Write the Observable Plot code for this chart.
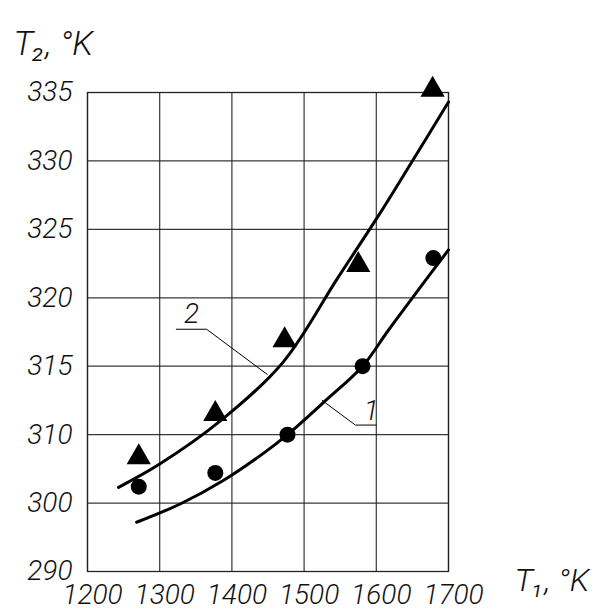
<!DOCTYPE html>
<html><head><meta charset="utf-8">
<script src="https://cdn.jsdelivr.net/npm/d3@7"></script>
<script src="https://cdn.jsdelivr.net/npm/@observablehq/plot@0.6"></script>
<style>body{margin:0;background:#fff}</style>
</head><body><div id="chart"></div>
<script>
// Tick labels
const xTicks = [1200, 1300, 1400, 1500, 1600, 1700];
const yTicks = [290, 300, 310, 315, 320, 325, 330, 335];
const yBreaks = [290, 300, 310, 335]; // labelled grid is evenly spaced; 290→300→310 are 10-unit steps
const yBreakSteps = [0, 1, 2, 7];     // grid-row index of each break
// Measured points, series 1 (circles) and series 2 (triangles)
const circleT1 = [1271, 1377, 1477, 1581, 1679];
const circleT2 = [302.4, 304.4, 310.0, 315.0, 322.9];
const triangleT1 = [1271, 1377, 1473, 1575, 1678];
const triangleT2 = [306.7, 311.5, 316.9, 322.4, 335.2];
// Fitted curves
const curve1T1 = [1268, 1329, 1388, 1444, 1477, 1530, 1581, 1615, 1650, 1700];
const curve1T2 = [297.2, 299.9, 303.3, 307.3, 310.0, 312.5, 315.0, 317.5, 320.0, 323.5];
const curve2T1 = [1243, 1300, 1384, 1471, 1546, 1603, 1650, 1700];
const curve2T2 = [302.3, 305.7, 311.0, 315.3, 321.4, 326.0, 330.0, 334.3];
// Curve labels and leader lines
const curveLabels = ["1", "2"];
const labelT1 = [1593, 1344];
const labelT2 = [311.7, 318.8];
const leader1T1 = [1525, 1571, 1600];
const leader1T2 = [312.5, 310.7, 310.7];
const leader2T1 = [1323, 1365, 1449];
const leader2T2 = [317.7, 317.7, 314.4];
const yTitle = "T\u2082, \u00b0K";
const xTitle = "T\u2081, \u00b0K";

const W = 598, H = 610, mt = 92, mb = 39, ml = 87, mr = 150;
// piecewise map of the non-uniform labelled axis onto evenly spaced grid rows
const row = d3.scaleLinear(yBreaks, yBreakSteps);
const pts = (xs, ys) => xs.map((x, i) => ({x, y: row(ys[i])}));
const font = {fontFamily: "Roboto", fontStyle: "italic", fontWeight: 300};

const chart = Plot.plot({
  width: W, height: H,
  marginTop: mt, marginBottom: mb, marginLeft: ml, marginRight: mr,
  style: {fontFamily: "Roboto", background: "#fff", color: "#111"},
  x: {domain: [1200, 1700]},
  y: {domain: [0, 7]},
  marks: [
    Plot.gridX(xTicks, {stroke: "#222", strokeOpacity: 0.9, strokeWidth: 1.2}),
    Plot.gridY(yTicks.map(row), {stroke: "#222", strokeOpacity: 0.9, strokeWidth: 1.2}),
    Plot.frame({stroke: "#222", strokeWidth: 1.3}),
    Plot.axisX(xTicks, {tickSize: 0, tickPadding: 13, fontSize: 28, dx: 5, label: null, tickFormat: d3.format("d"), ...font}),
    Plot.axisY(yTicks.map(row), {tickSize: 0, tickPadding: 15, fontSize: 28, label: null, tickFormat: d => String(Math.round(row.invert(d))), ...font}),
    Plot.line(pts(curve1T1, curve1T2), {x: "x", y: "y", stroke: "#000", strokeWidth: 3, curve: "catmull-rom"}),
    Plot.line(pts(curve2T1, curve2T2), {x: "x", y: "y", stroke: "#000", strokeWidth: 3, curve: "catmull-rom"}),
    Plot.line(pts(leader1T1, leader1T2), {x: "x", y: "y", stroke: "#000", strokeWidth: 1}),
    Plot.line(pts(leader2T1, leader2T2), {x: "x", y: "y", stroke: "#000", strokeWidth: 1}),
    Plot.dot(pts(circleT1, circleT2), {x: "x", y: "y", r: 8, fill: "#000", symbol: "circle"}),
    Plot.dot(pts(triangleT1, triangleT2), {x: "x", y: "y", r: 9, fill: "#000", symbol: "triangle"}),
    Plot.text(pts(labelT1, labelT2), {x: "x", y: "y", text: (d, i) => curveLabels[i], fontSize: 28, fill: "#111", ...font}),
    Plot.text([yTitle], {frameAnchor: "top-left", dx: -74, dy: -62, textAnchor: "start", fontSize: 34, fill: "#111", ...font}),
    Plot.text([xTitle], {frameAnchor: "bottom-right", dx: 66, dy: 19, textAnchor: "start", fontSize: 32, fill: "#111", ...font})
  ]
});
document.getElementById("chart").appendChild(chart);
</script>
</body></html>
